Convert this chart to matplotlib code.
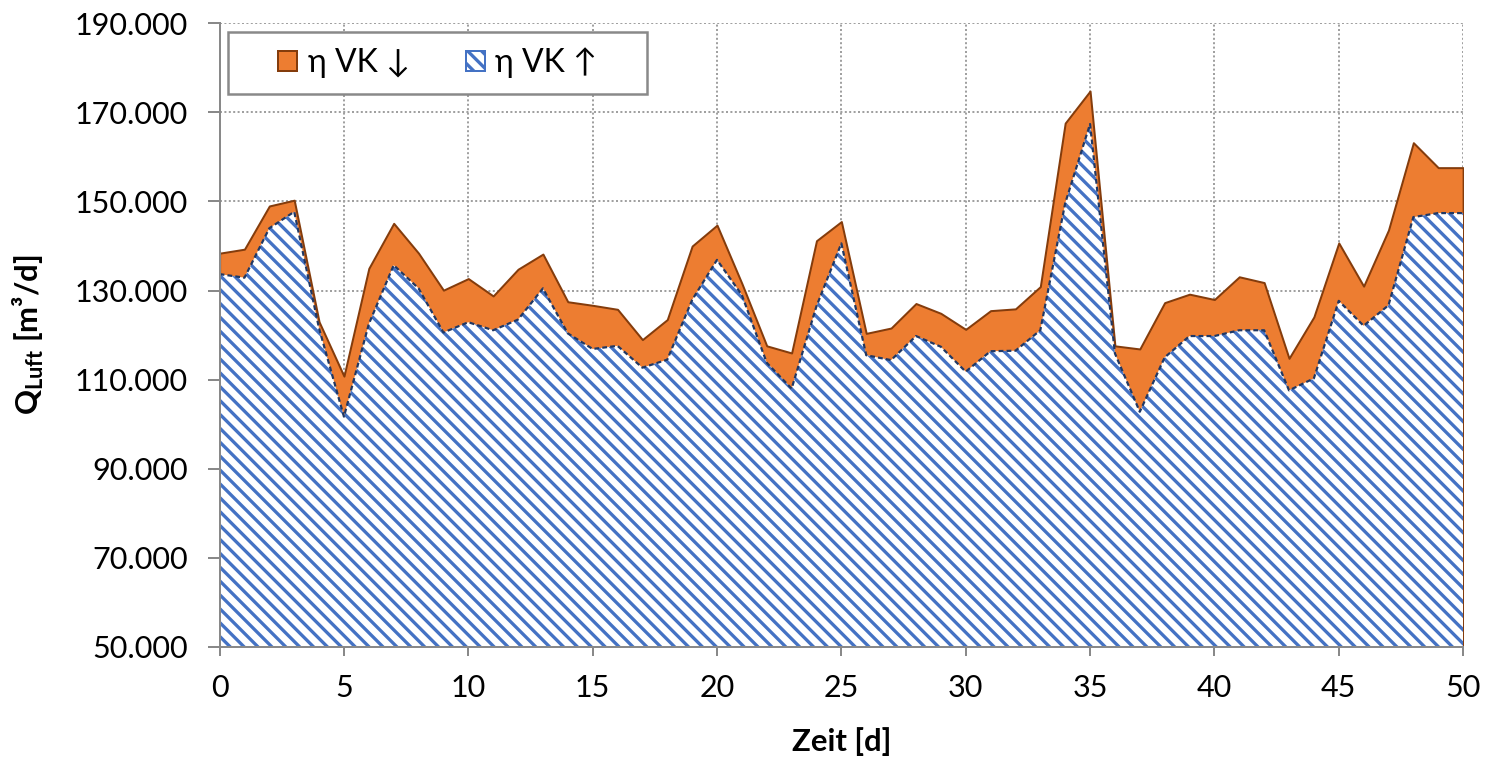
import matplotlib
matplotlib.use("Agg")
import matplotlib.pyplot as plt
import matplotlib.patches as patches
from matplotlib.ticker import FuncFormatter

DPI = 125
plt.rcParams["font.family"] = ["Lato", "DejaVu Sans"]
plt.rcParams["mathtext.fontset"] = "custom"
plt.rcParams["mathtext.rm"] = "Lato"
plt.rcParams["mathtext.bf"] = "Lato:bold"
plt.rcParams["hatch.linewidth"] = 1.9

# Luftbedarf je Tag fuer niedrigen / hohen Wirkungsgrad der Verdichter
days = list(range(51))
q_eta_down = [138400, 139300, 149000, 150300, 123000, 110800, 135000, 145100, 138400, 130100,
              132700, 128800, 134800, 138200, 127500, 126700, 125800, 119000, 123500, 140000,
              144700, 131600, 117600, 116000, 141200, 145500, 120400, 121600, 127100, 124900,
              121300, 125500, 125900, 130900, 167600, 174800, 117600, 116900, 127300, 129200,
              128000, 133100, 131800, 114800, 124100, 140700, 131000, 143600, 163200, 157600,
              157600]
q_eta_up = [133700, 132900, 144000, 147700, 121500, 101700, 122500, 135700, 130500, 120600,
            122900, 121100, 123500, 130500, 120400, 116900, 117600, 112700, 114500, 127900,
            136900, 129000, 113800, 108000, 126500, 140600, 115500, 114400, 119800, 117400,
            111800, 116400, 116500, 121100, 149600, 167400, 115900, 102800, 115000, 119800,
            119800, 121100, 121100, 107600, 110300, 127700, 122100, 126700, 146500, 147400,
            147400]
label_down = "η VK ↓"
label_up = "η VK ↑"
x_ticks = list(range(0, 51, 5))
y_ticks = list(range(50000, 190001, 20000))

ORANGE = "#ED7D31"
BROWN = "#843C0C"
BLUE = "#4472C4"
NAVY = "#203864"
GRAY = "#898989"

def px(v):
    return v * 72.0 / DPI

W, H = 1487, 758
fig = plt.figure(figsize=(W / DPI, H / DPI), dpi=DPI)
ax = fig.add_axes([219.6 / W, 1 - 647 / H, (1463.1 - 219.6) / W, (647 - 23.3) / H])

base = y_ticks[0]
ax.fill_between(days, base, q_eta_down, facecolor=ORANGE, edgecolor=BROWN,
                linewidth=px(2.0), zorder=2)
ax.fill_between(days, base, q_eta_up, facecolor="white", edgecolor=BLUE,
                hatch="\\\\\\", linewidth=0, zorder=3)
ax.plot(days, q_eta_up, color=NAVY, lw=px(2.2), ls=(0, (2.2, 1.4)), zorder=4)

ax.set_xlim(x_ticks[0], x_ticks[-1])
ax.set_ylim(y_ticks[0], y_ticks[-1])
ax.set_xticks(x_ticks)
ax.set_yticks(y_ticks)
ax.yaxis.set_major_formatter(FuncFormatter(lambda v, p: f"{int(v):,}".replace(",", ".")))

ax.set_axisbelow(True)
ax.grid(True, color="#A0A0A0", lw=px(2), ls=(0, (1, 1.2)))
for side in ("top", "right"):
    ax.spines[side].set_visible(False)
for side in ("left", "bottom"):
    ax.spines[side].set_color(GRAY)
    ax.spines[side].set_linewidth(px(2))
    ax.spines[side].set_zorder(5)

fs = px(30.5)
ax.tick_params(axis="y", direction="out", length=px(12), width=px(2), color=GRAY,
               pad=px(20), labelsize=fs)
ax.tick_params(axis="x", direction="out", length=px(9), width=px(2), color=GRAY,
               pad=px(18), labelsize=fs)

ax.set_xlabel("Zeit [d]", fontsize=px(31), fontweight="bold")
ax.xaxis.set_label_coords(0.5, -(727 - 647) / 624)
ax.set_ylabel(r"$\mathbf{Q}_{\mathbf{Luft}}$ [m³/d]", fontsize=px(31), fontweight="bold")
ax.yaxis.set_label_coords(-(219.6 - 46) / 1243.5, 0.5)

# Legendenrahmen
frame = patches.Rectangle((228 / W, 1 - 94 / H), (647 - 228) / W, (94 - 32) / H,
                          transform=fig.transFigure, facecolor="white", edgecolor=GRAY,
                          linewidth=px(2.5), zorder=6)
fig.add_artist(frame)

h_down = patches.Patch(facecolor=ORANGE, edgecolor=BROWN, linewidth=px(2))
h_up = patches.Patch(facecolor="white", edgecolor=BLUE, hatch="\\\\\\", linewidth=px(2))
leg = fig.legend([h_down, h_up], [label_down, label_up], loc="center",
                 bbox_to_anchor=((228 + 647) / 2 / W, 1 - 63 / H),
                 ncol=2, fontsize=px(32), frameon=False,
                 handlelength=0.6, handleheight=0.6, handletextpad=0.33,
                 columnspacing=1.75, borderpad=0, borderaxespad=0)
leg.set_zorder(7)

fig.savefig("out.png", dpi=DPI)
